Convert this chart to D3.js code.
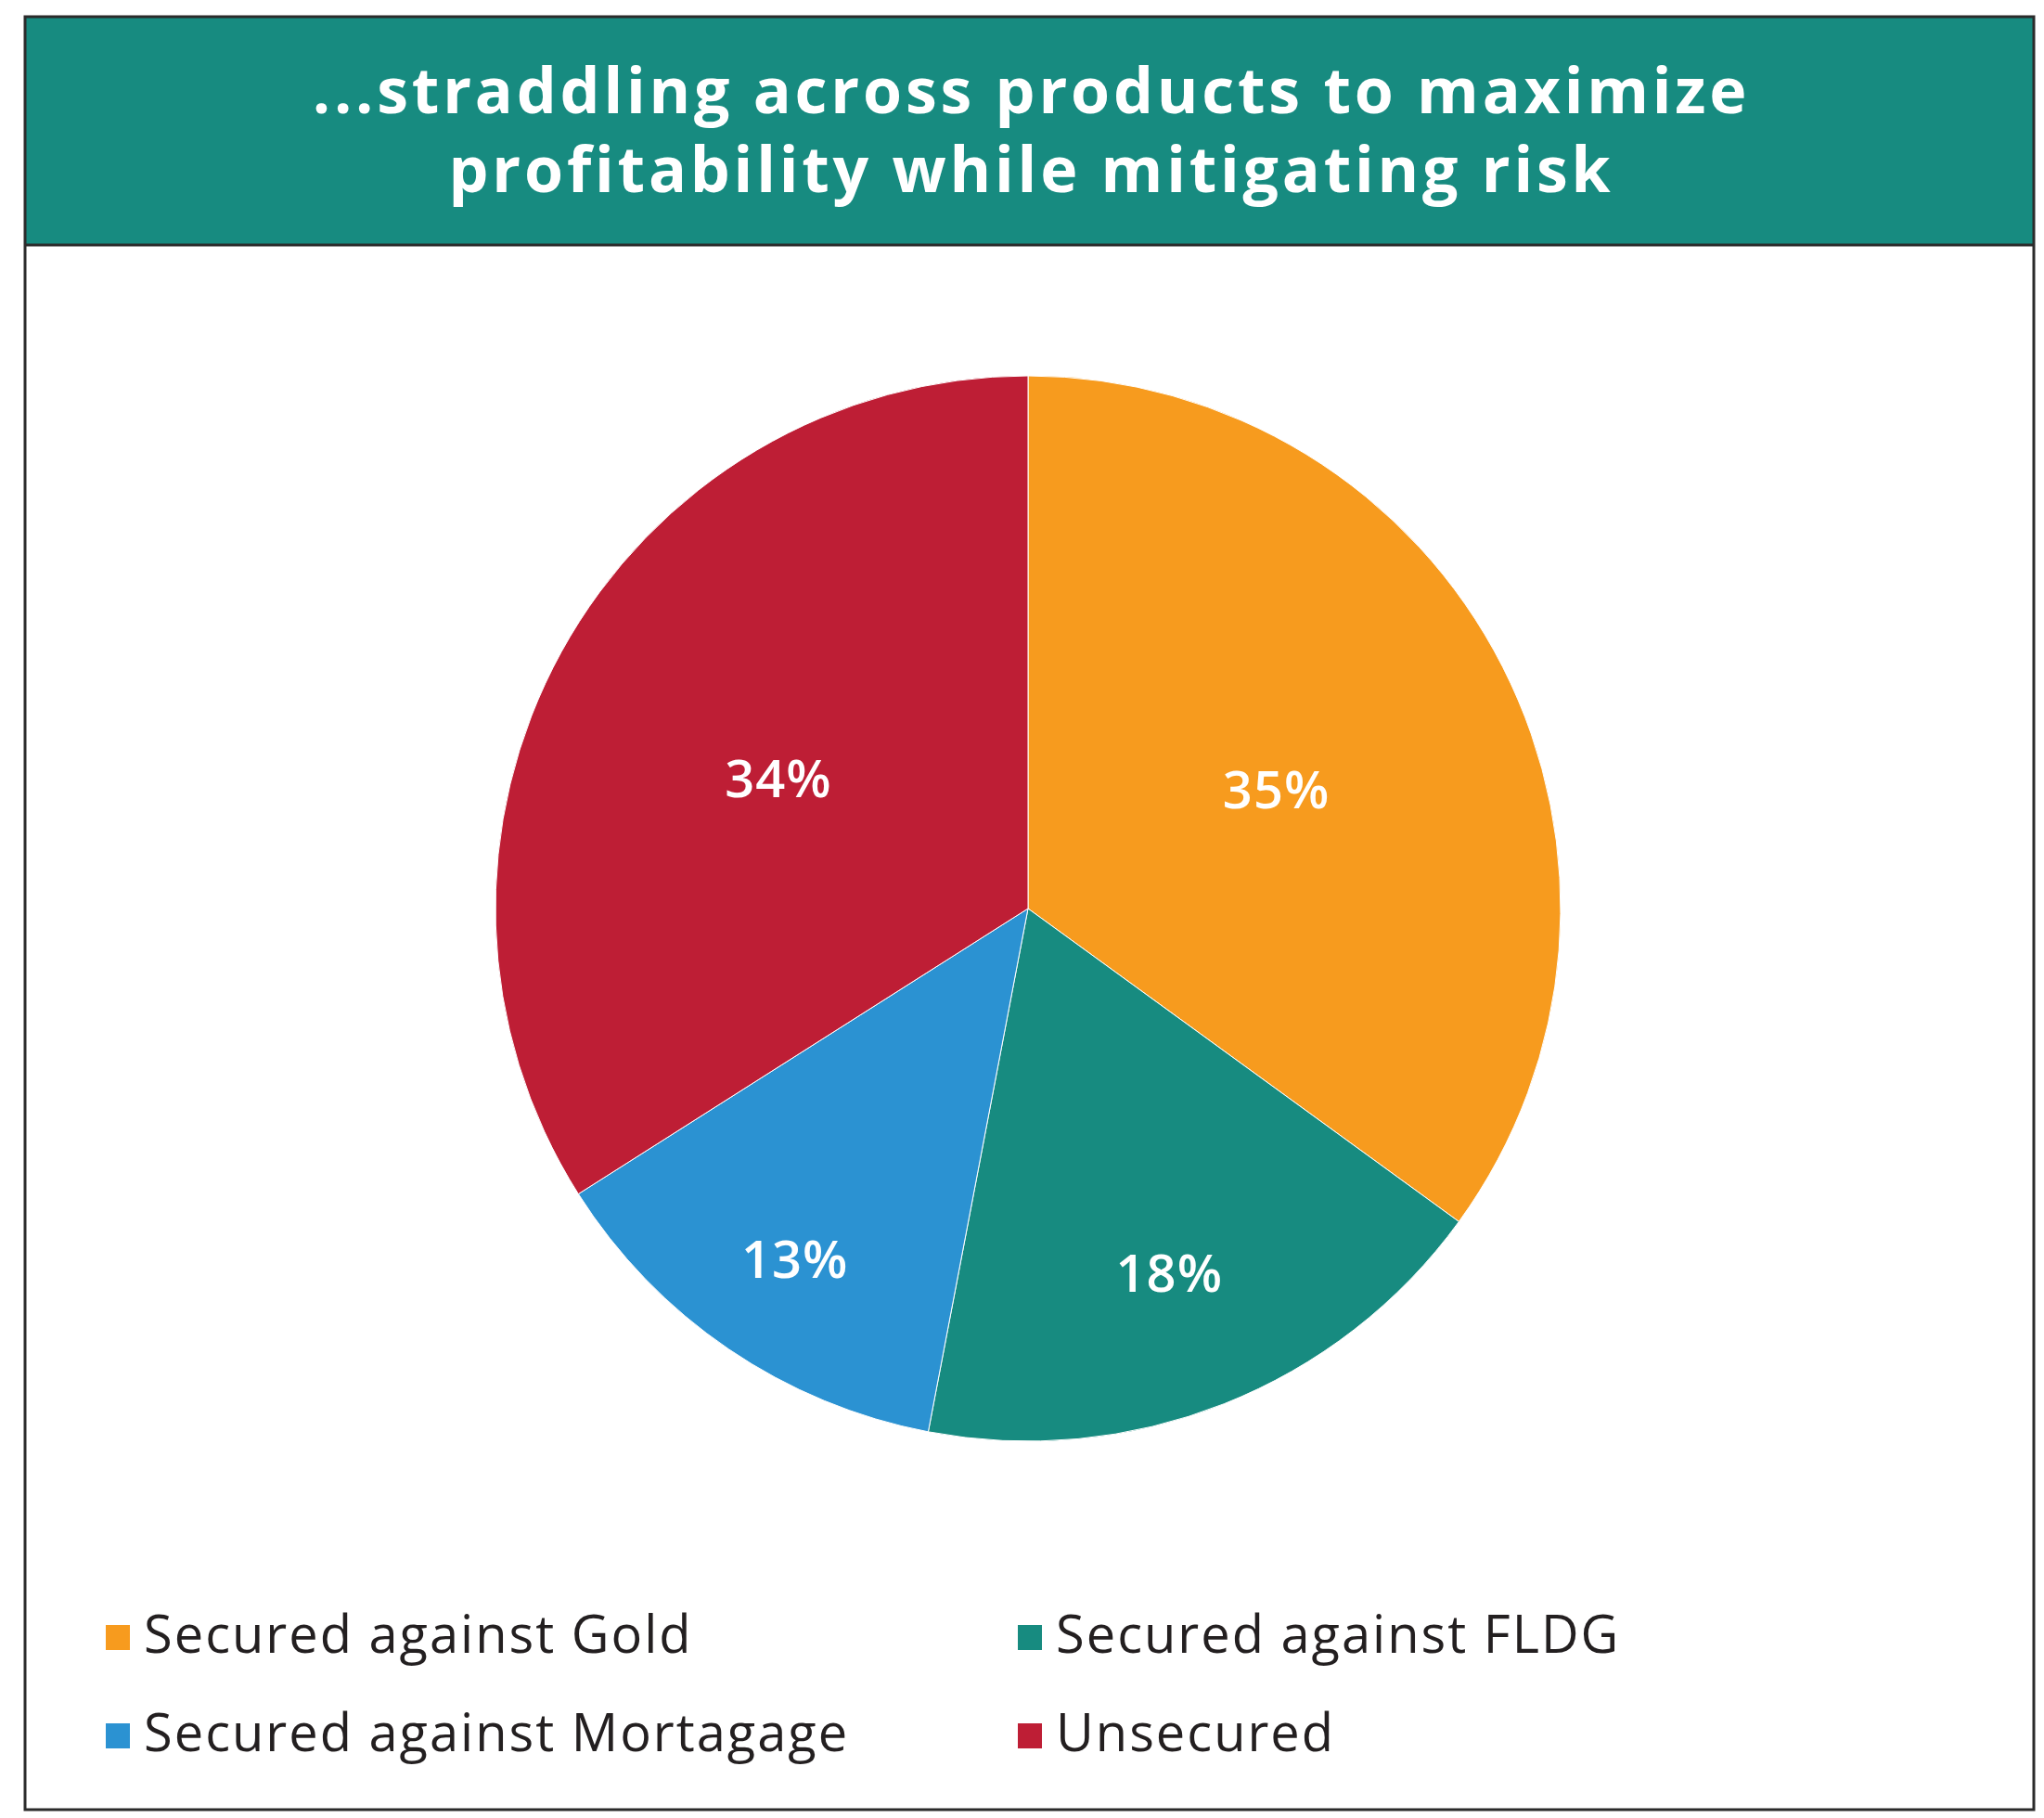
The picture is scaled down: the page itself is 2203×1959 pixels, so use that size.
<!DOCTYPE html>
<html>
<head>
<meta charset="utf-8">
<script src="https://cdn.jsdelivr.net/npm/d3@7"></script>
<style>
  body { margin: 0; background: #fff; }
  svg { display: block; }
</style>
</head>
<body>
<div id="chart"></div>
<script>
// data
var titleLines = ["...straddling across products to maximize", "profitability while mitigating risk"];
var categories = ["Secured against Gold", "Secured against FLDG", "Secured against Mortagage", "Unsecured"];
var shares = [35, 18, 13, 34];
var colors = ["#f79b1e", "#178b80", "#2b92d2", "#be1e35"];

var W = 2203, H = 1959;
var box = { x: 27, y: 18, w: 2165, h: 1932, band: 246 };

var svg = d3.select("#chart")
  .append("svg")
  .attr("width", W)
  .attr("height", H);

svg.append("rect")
  .attr("width", W)
  .attr("height", H)
  .attr("fill", "#fff");

// title band
svg.append("rect")
  .attr("x", box.x)
  .attr("y", box.y)
  .attr("width", box.w)
  .attr("height", box.band)
  .attr("fill", "#178b80");

svg.append("line")
  .attr("x1", box.x)
  .attr("x2", box.x + box.w)
  .attr("y1", box.y + box.band)
  .attr("y2", box.y + box.band)
  .attr("stroke", "#2b2b2b")
  .attr("stroke-width", 3);

svg.append("rect")
  .attr("x", box.x)
  .attr("y", box.y)
  .attr("width", box.w)
  .attr("height", box.h)
  .attr("fill", "none")
  .attr("stroke", "#2b2b2b")
  .attr("stroke-width", 3);

svg.append("g")
  .selectAll("text")
  .data(titleLines)
  .enter()
  .append("text")
  .attr("x", box.x + box.w / 2 + 2)
  .attr("y", function(d, i) { return 122 + i * 85; })
  .attr("text-anchor", "middle")
  .attr("fill", "#fff")
  .style("font-family", "'Open Sans', sans-serif")
  .style("font-weight", 700)
  .style("font-size", "68px")
  .style("letter-spacing", "3.8px")
  .text(function(d) { return d; });

// pie
var cx = 1108, cy = 979, r = 574;
var slices = categories.map(function(c, i) {
  return { name: c, value: shares[i], color: colors[i] };
});

var pie = d3.pie()
  .sort(null)
  .value(function(d) { return d.value; });

var arc = d3.arc().innerRadius(0).outerRadius(r);

// wide slices get their label nearer the middle, narrow ones further out
function labelRadius(d) {
  var half = (d.endAngle - d.startAngle) / 2;
  return r * (0.93 - 0.37 * half);
}
var labelArc = d3.arc().innerRadius(labelRadius).outerRadius(labelRadius);

var pieG = svg.append("g")
  .attr("transform", "translate(" + cx + "," + cy + ")");

pieG.selectAll("path")
  .data(pie(slices))
  .enter()
  .append("path")
  .attr("d", arc)
  .attr("fill", function(d) { return d.data.color; })
  .attr("stroke", "#fff")
  .attr("stroke-width", 1);

pieG.selectAll("text")
  .data(pie(slices))
  .enter()
  .append("text")
  .attr("transform", function(d) {
    return "translate(" + labelArc.centroid(d) + ")";
  })
  .attr("text-anchor", "middle")
  .attr("dy", "0.5em")
  .attr("fill", "#fff")
  .style("font-family", "'Open Sans', sans-serif")
  .style("font-weight", 600)
  .style("font-size", "56px")
  .style("letter-spacing", "1px")
  .text(function(d) { return d.data.value + "%"; });

// legend
var legend = svg.append("g")
  .selectAll("g")
  .data(slices)
  .enter()
  .append("g")
  .attr("transform", function(d, i) {
    return "translate(" + (114 + (i % 2) * 983) + "," + (1781 + Math.floor(i / 2) * 106) + ")";
  });

legend.append("rect")
  .attr("x", 0)
  .attr("y", -30)
  .attr("width", 26)
  .attr("height", 27)
  .attr("fill", function(d) { return d.color; });

legend.append("text")
  .attr("x", 41)
  .attr("y", 0)
  .attr("fill", "#231f20")
  .style("font-family", "'Open Sans', sans-serif")
  .style("font-size", "56px")
  .style("letter-spacing", "2px")
  .text(function(d) { return d.name; });
</script>
</body>
</html>
